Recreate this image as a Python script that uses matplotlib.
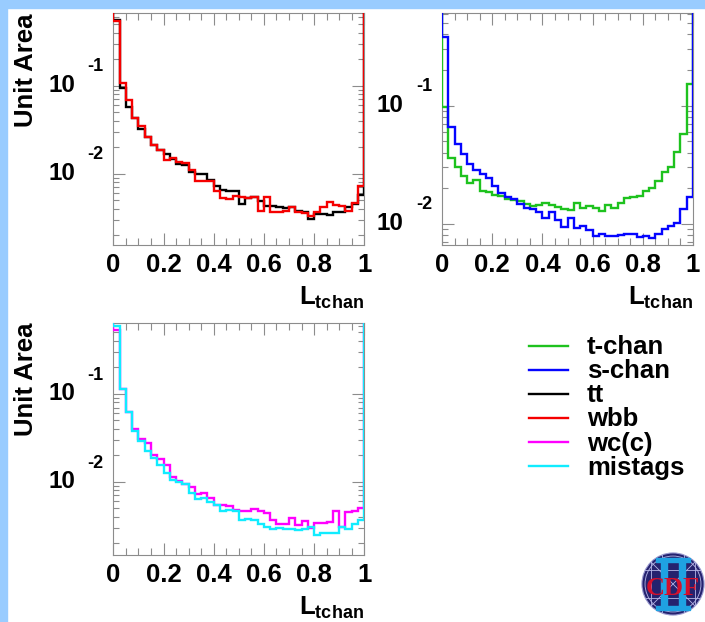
import numpy as np
import matplotlib
matplotlib.use('Agg')
import matplotlib.pyplot as plt
from matplotlib.lines import Line2D
from matplotlib.patches import Circle, Rectangle
from matplotlib.ticker import MultipleLocator, LogLocator, NullFormatter

plt.rcParams['font.family'] = ['Liberation Sans', 'DejaVu Sans']
plt.rcParams['font.weight'] = 'bold'
plt.rcParams['mathtext.fontset'] = 'custom'
plt.rcParams['mathtext.rm'] = 'Liberation Sans:bold'
plt.rcParams['mathtext.bf'] = 'Liberation Sans:bold'
plt.rcParams['mathtext.it'] = 'Liberation Sans:bold'

# L_tchan templates: 40 bins of 0.025, each normalised to unit area
edges = np.linspace(0, 1, 41)
off_scale = 1.0  # spikes at exactly L=0 and L=1 run off the top of the frame

t_chan = [0.0966, 0.0359, 0.0299, 0.0254, 0.0220, 0.0235, 0.0190, 0.0184, 0.0175, 0.0170,
          0.0162, 0.0159, 0.0156, 0.0147, 0.0140, 0.0144, 0.0149, 0.0144, 0.0138, 0.0134,
          0.0131, 0.0149, 0.0137, 0.0140, 0.0137, 0.0129, 0.0144, 0.0135, 0.0151, 0.0164,
          0.0167, 0.0170, 0.0190, 0.0200, 0.0231, 0.0272, 0.0299, 0.0401, 0.0573, 0.153]
s_chan = [0.379, 0.0657, 0.0471, 0.0390, 0.0319, 0.0285, 0.0264, 0.0242, 0.0210, 0.0183,
          0.0169, 0.0162, 0.0146, 0.0137, 0.0132, 0.0125, 0.0112, 0.0125, 0.0107, 0.0094,
          0.0112, 0.0092, 0.0096, 0.0088, 0.0079, 0.0082, 0.0079, 0.0079, 0.0080, 0.0081,
          0.0081, 0.0077, 0.0078, 0.0076, 0.0081, 0.0090, 0.0096, 0.0102, 0.0132, 0.0169]
tt = [0.56, 0.094, 0.057, 0.043, 0.0325, 0.026, 0.0214, 0.0187, 0.0169, 0.0148,
      0.0129, 0.0127, 0.0106, 0.0100, 0.0100, 0.0085, 0.0072, 0.0066, 0.0064, 0.0064,
      0.0045, 0.0053, 0.0055, 0.0049, 0.0043, 0.0043, 0.0042, 0.0041, 0.0042, 0.0038,
      0.0037, 0.0031, 0.0035, 0.0035, 0.0034, 0.0037, 0.0037, 0.0042, 0.0045, 0.0058]
wbb = [0.55, 0.107, 0.069, 0.043, 0.0346, 0.026, 0.0214, 0.0187, 0.0143, 0.0150,
       0.0136, 0.0132, 0.0110, 0.0083, 0.0083, 0.0083, 0.0064, 0.0053, 0.0052, 0.0056,
       0.0054, 0.0053, 0.0055, 0.0038, 0.0054, 0.0037, 0.0037, 0.0038, 0.0042, 0.0037,
       0.0036, 0.0033, 0.0037, 0.0042, 0.0048, 0.0044, 0.0043, 0.0038, 0.0047, 0.0072]
wcc = [0.538, 0.115, 0.0624, 0.0394, 0.0310, 0.0277, 0.0204, 0.0180, 0.0157, 0.0113,
       0.0103, 0.0095, 0.0087, 0.0072, 0.0075, 0.0066, 0.0054, 0.0054, 0.0053, 0.0048,
       0.0047, 0.0047, 0.0049, 0.0047, 0.0044, 0.0037, 0.0033, 0.0033, 0.0039, 0.0032,
       0.0036, 0.0030, 0.0034, 0.0034, 0.0035, 0.0046, 0.0031, 0.0045, 0.0047, 0.0050]
mistags = [0.587, 0.115, 0.0624, 0.0383, 0.0295, 0.0223, 0.0187, 0.0157, 0.0127, 0.0104,
           0.0099, 0.0095, 0.0075, 0.0063, 0.0066, 0.0059, 0.0055, 0.0047, 0.0048, 0.0046,
           0.0037, 0.0038, 0.0037, 0.0033, 0.0031, 0.0029, 0.0030, 0.0029, 0.0029, 0.0028,
           0.0029, 0.0031, 0.0025, 0.0026, 0.0026, 0.0026, 0.0031, 0.0029, 0.0033, 0.0037]

labels = ['t-chan', 's-chan', 'tt', 'wbb', 'wc(c)', 'mistags']
colors = ['#1ec21e', '#0505ff', 'black', '#f50000', '#ff00ff', '#10ecff']
series = dict(zip(labels, [t_chan, s_chan, tt, wbb, wcc, mistags]))
col = dict(zip(labels, colors))

W, H = 705, 622
frame_gray = '#8c8c8c'

fig = plt.figure(figsize=(W / 100, H / 100), dpi=100)

# light blue slide border
fig.add_artist(Rectangle((0, 0), 7 / W, 1, transform=fig.transFigure,
                         color='#99ccff', zorder=0))
fig.add_artist(Rectangle((0, 1 - 7.5 / H), 1, 7.5 / H, transform=fig.transFigure,
                         color='#99ccff', zorder=0))

def px_rect(x0, y0, x1, y1):
    return [x0 / W, 1 - y1 / H, (x1 - x0) / W, (y1 - y0) / H]

panels = [
    # (rect in pixels, series drawn in order, ylim, y title?)
    (px_rect(113.3, 13.3, 364.3, 245), ['tt', 'wbb'], (0.00155, 0.665), True),
    (px_rect(442, 13.3, 693, 245), ['t-chan', 's-chan'], (0.0066, 0.604), False),
    (px_rect(113.3, 323, 364.3, 555), ['wc(c)', 'mistags'], (0.00147, 0.641), True),
]

full_edges = np.concatenate([[-0.025], edges, [1.025]])

for rect, names, ylim, ytitle in panels:
    ax = fig.add_axes(rect)
    for nm in names:
        vals = np.concatenate([[off_scale], series[nm], [off_scale]])
        ax.stairs(vals, full_edges, baseline=None, color=col[nm], lw=1.7, zorder=3)
    ax.set_yscale('log')
    ax.set_xlim(0, 1)
    ax.set_ylim(*ylim)

    ax.set_xticks([0, 0.2, 0.4, 0.6, 0.8, 1.0], ['0', '0.2', '0.4', '0.6', '0.8', '1'])
    ax.xaxis.set_minor_locator(MultipleLocator(0.05))
    ax.yaxis.set_major_locator(LogLocator(base=10, numticks=10))
    ax.yaxis.set_minor_locator(LogLocator(base=10, subs=np.arange(2, 10), numticks=20))
    ax.yaxis.set_major_formatter(NullFormatter())
    ax.yaxis.set_minor_formatter(NullFormatter())
    ax.tick_params(which='both', direction='in', top=True, right=True,
                   color=frame_gray, width=0.8)
    ax.tick_params(which='major', length=8.6)
    ax.tick_params(axis='x', which='minor', length=5)
    ax.tick_params(axis='y', which='minor', length=4.3)
    ax.tick_params(axis='x', labelsize=18.5, pad=6)
    for s in ax.spines.values():
        s.set_color(frame_gray)
        s.set_linewidth(0.8)

    # ROOT style decade labels: "10" with the exponent raised to its right
    for p in (-1, -2):
        ax.annotate('10', xy=(0, 10.0 ** p), xycoords=('axes fraction', 'data'),
                    xytext=(-27.5, 0), textcoords='offset points',
                    ha='right', va='center', fontsize=17.5)
        ax.annotate(f'{p}', xy=(0, 10.0 ** p), xycoords=('axes fraction', 'data'),
                    xytext=(-7.2, 13.5), textcoords='offset points',
                    ha='right', va='center', fontsize=13)

    if ytitle:
        ax.annotate('Unit Area', xy=(0, 1), xycoords='axes fraction',
                    xytext=(-62.5, 0), textcoords='offset points',
                    rotation=90, ha='center', va='top', fontsize=18.5)
    ax.annotate(r'$\mathbf{L}_{\mathbf{tchan}}$', xy=(1, 0), xycoords='axes fraction',
                xytext=(0, -43.2), textcoords='offset points',
                ha='right', va='baseline', fontsize=18.5)

handles = [Line2D([], [], color=col[nm], lw=1.7) for nm in labels]
fig.legend(handles, labels, loc='upper left', bbox_to_anchor=(529 / W, 1 - 335.5 / H),
           frameon=False, fontsize=18.5, handlelength=1.5, handletextpad=0.75,
           labelspacing=0.0, borderpad=0, borderaxespad=0)

# CDF Run II logo
lax = fig.add_axes(px_rect(673 - 32, 584 - 32, 673 + 32, 584 + 32))
lax.set_xlim(-1.03, 1.03)
lax.set_ylim(-1.03, 1.03)
lax.axis('off')
disk = Circle((0, 0), 1, fc='#25226e', ec='#9a9ad0', lw=0.8)
lax.add_patch(disk)
grid_kw = dict(color='#b8b8e8', lw=0.6)
for xv in (-0.72, -0.36, 0.36, 0.72):
    ln, = lax.plot([xv, xv], [-1, 1], **grid_kw)
    ln.set_clip_path(disk)
for yv in (-0.45, 0.45):
    ln, = lax.plot([-1, 1], [yv, yv], **grid_kw)
    ln.set_clip_path(disk)
for a, b in ((-1, 1), (1, -1)):
    ln, = lax.plot([-0.9, 0.9], [a * 0.9, b * 0.9], **grid_kw)
    ln.set_clip_path(disk)
ring = Circle((0, 0), 0.9, fc='none', ec='#b8b8e8', lw=0.6)
lax.add_patch(ring)
cyan_ii = '#1fa2e2'
for x0 in (-0.40, 0.18):
    lax.add_patch(Rectangle((x0, -0.8), 0.22, 1.6, color=cyan_ii, zorder=3))
lax.add_patch(Rectangle((-0.55, 0.70), 1.10, 0.15, color=cyan_ii, zorder=3))
lax.add_patch(Rectangle((-0.55, -0.85), 1.10, 0.15, color=cyan_ii, zorder=3))
lax.text(-0.02, -0.14, 'CDF', family='Liberation Serif', fontweight='bold',
         color='#d4102c', fontsize=19, ha='center', va='center', zorder=4)

fig.savefig('out.png', dpi=100)
